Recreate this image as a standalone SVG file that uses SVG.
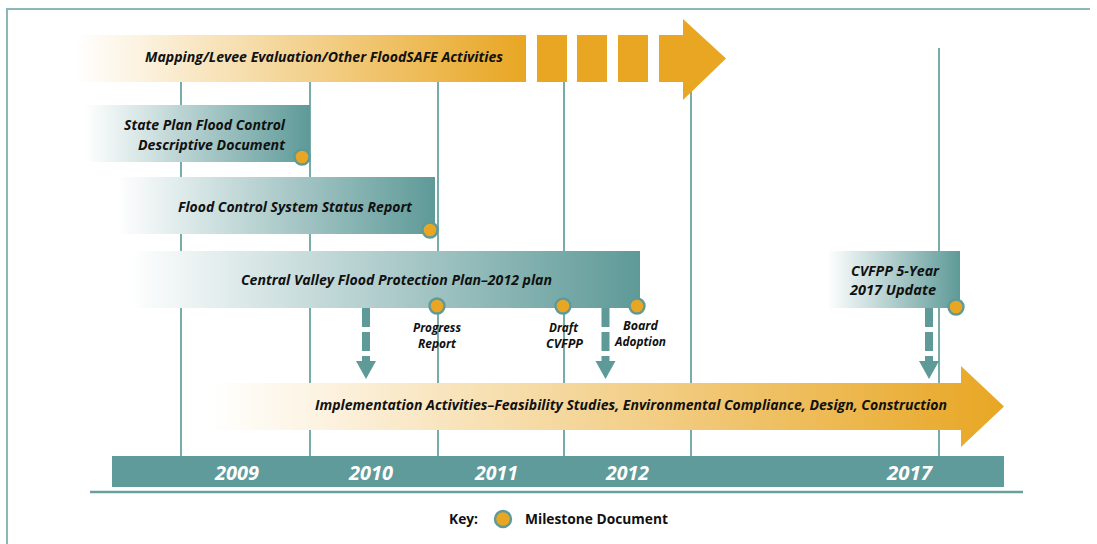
<svg xmlns="http://www.w3.org/2000/svg" width="1097" height="544" viewBox="0 0 1097 544">
<defs>
<linearGradient id="gTeal" x1="0" y1="0" x2="1" y2="0">
<stop offset="0" stop-color="#ffffff"/>
<stop offset="1" stop-color="#5e9a98"/>
</linearGradient>
<linearGradient id="gOrange" x1="0" y1="0" x2="1" y2="0">
<stop offset="0" stop-color="#ffffff"/>
<stop offset="1" stop-color="#e8a623"/>
</linearGradient>
<style>
.frame{fill:none;stroke:#8cb9b7;stroke-width:2}
.vline{stroke:#78aba9;stroke-width:2}
.lbl{font-family:"Open Sans","Liberation Sans",sans-serif;font-style:italic;font-weight:700;font-size:15px;fill:#111111}
.sm{font-family:"Open Sans","Liberation Sans",sans-serif;font-style:italic;font-weight:700;font-size:12.5px;fill:#111111}
.yr{font-family:"Open Sans","Liberation Sans",sans-serif;font-style:italic;font-weight:700;font-size:19px;fill:#ffffff}
.key{font-family:"Open Sans","Liberation Sans",sans-serif;font-weight:700;font-size:14px;fill:#111111}
.ms{fill:#e8a623;stroke:#5e9a98;stroke-width:2.4}
.dash{fill:#5e9a98}
</style>
</defs>
<rect width="1097" height="544" fill="#ffffff"/>
<path class="frame" d="M7,544 V9 H1090"/>
<g id="gridlines">
<line class="vline" x1="181" y1="60" x2="181" y2="456"/>
<line class="vline" x1="310" y1="60" x2="310" y2="456"/>
<line class="vline" x1="438" y1="60" x2="438" y2="456"/>
<line class="vline" x1="564" y1="60" x2="564" y2="456"/>
<line class="vline" x1="691" y1="60" x2="691" y2="456"/>
<line class="vline" x1="939" y1="48" x2="939" y2="456"/>
</g>
<g id="mapping">
<rect x="75" y="35" width="451" height="47" fill="url(#gOrange)"/>
<rect x="537" y="35" width="30" height="47" fill="#e8a623"/>
<rect x="577" y="35" width="30" height="47" fill="#e8a623"/>
<rect x="618" y="35" width="30" height="47" fill="#e8a623"/>
<path d="M659,35 H683 V19 L726,58.5 L683,100 V82 H659 Z" fill="#e8a623"/>
<text class="lbl" x="145" y="62" textLength="358" lengthAdjust="spacingAndGlyphs">Mapping/Levee Evaluation/Other FloodSAFE Activities</text>
</g>
<g id="stateplan">
<rect x="85" y="105" width="225" height="57" fill="url(#gTeal)"/>
<text class="lbl" x="124" y="130" textLength="161" lengthAdjust="spacingAndGlyphs">State Plan Flood Control</text>
<text class="lbl" x="138" y="150" textLength="147" lengthAdjust="spacingAndGlyphs">Descriptive Document</text>
<circle class="ms" cx="302" cy="157" r="7.5"/>
</g>
<g id="fcssr">
<rect x="117" y="177" width="318" height="57" fill="url(#gTeal)"/>
<text class="lbl" x="178" y="212" textLength="234" lengthAdjust="spacingAndGlyphs">Flood Control System Status Report</text>
<circle class="ms" cx="430" cy="230" r="7.5"/>
</g>
<g id="cvfpp">
<rect x="130" y="251" width="510" height="57" fill="url(#gTeal)"/>
<text class="lbl" x="241" y="285" textLength="311" lengthAdjust="spacingAndGlyphs">Central Valley Flood Protection Plan–2012 plan</text>
<circle class="ms" cx="437" cy="306" r="7.5"/>
<circle class="ms" cx="563" cy="306" r="7.5"/>
<circle class="ms" cx="637" cy="306" r="7.5"/>
<text class="sm" x="413" y="332" textLength="48" lengthAdjust="spacingAndGlyphs">Progress</text>
<text class="sm" x="418" y="348" textLength="38" lengthAdjust="spacingAndGlyphs">Report</text>
<text class="sm" x="549" y="332" textLength="29" lengthAdjust="spacingAndGlyphs">Draft</text>
<text class="sm" x="546" y="348" textLength="37" lengthAdjust="spacingAndGlyphs">CVFPP</text>
<text class="sm" x="623" y="330" textLength="35" lengthAdjust="spacingAndGlyphs">Board</text>
<text class="sm" x="615" y="346" textLength="51" lengthAdjust="spacingAndGlyphs">Adoption</text>
</g>
<g id="update2017">
<rect x="827" y="251" width="133" height="57" fill="url(#gTeal)"/>
<text class="lbl" x="851" y="276" textLength="88" lengthAdjust="spacingAndGlyphs">CVFPP 5-Year</text>
<text class="lbl" x="850" y="295" textLength="86" lengthAdjust="spacingAndGlyphs">2017 Update</text>
<circle class="ms" cx="956" cy="307" r="7.5"/>
</g>
<g id="connectors">
<g transform="translate(366,0)">
<rect class="dash" x="-4" y="308" width="8" height="19"/>
<rect class="dash" x="-4" y="332" width="8" height="19"/>
<rect class="dash" x="-4" y="356" width="8" height="6"/>
<path class="dash" d="M-10,361 H10 L0,379 Z"/>
</g>
<g transform="translate(605.5,0)">
<rect class="dash" x="-4" y="308" width="8" height="19"/>
<rect class="dash" x="-4" y="332" width="8" height="19"/>
<rect class="dash" x="-4" y="356" width="8" height="6"/>
<path class="dash" d="M-10,361 H10 L0,379 Z"/>
</g>
<g transform="translate(929,0)">
<rect class="dash" x="-4" y="308" width="8" height="19"/>
<rect class="dash" x="-4" y="332" width="8" height="19"/>
<rect class="dash" x="-4" y="356" width="8" height="6"/>
<path class="dash" d="M-10,361 H10 L0,379 Z"/>
</g>
</g>
<g id="implementation">
<path d="M210,383 H961 V366 L1004,406.5 L961,447 V430 H210 Z" fill="url(#gOrange)"/>
<text class="lbl" x="315" y="410" textLength="632" lengthAdjust="spacingAndGlyphs">Implementation Activities–Feasibility Studies, Environmental Compliance, Design, Construction</text>
</g>
<g id="years">
<rect x="112" y="456" width="892" height="31" fill="#5f9b9a"/>
<text class="yr" x="215" y="480" textLength="44" lengthAdjust="spacingAndGlyphs">2009</text>
<text class="yr" x="349" y="480" textLength="44" lengthAdjust="spacingAndGlyphs">2010</text>
<text class="yr" x="475" y="480" textLength="43" lengthAdjust="spacingAndGlyphs">2011</text>
<text class="yr" x="606" y="480" textLength="43" lengthAdjust="spacingAndGlyphs">2012</text>
<text class="yr" x="887" y="480" textLength="45" lengthAdjust="spacingAndGlyphs">2017</text>
</g>
<line x1="90" y1="492" x2="1023" y2="492" stroke="#6a9f9e" stroke-width="2.5"/>
<g id="key">
<text class="key" x="449" y="524" textLength="29" lengthAdjust="spacingAndGlyphs">Key:</text>
<circle class="ms" cx="503" cy="519" r="8"/>
<text class="key" x="525" y="524" textLength="143" lengthAdjust="spacingAndGlyphs">Milestone Document</text>
</g>
</svg>
